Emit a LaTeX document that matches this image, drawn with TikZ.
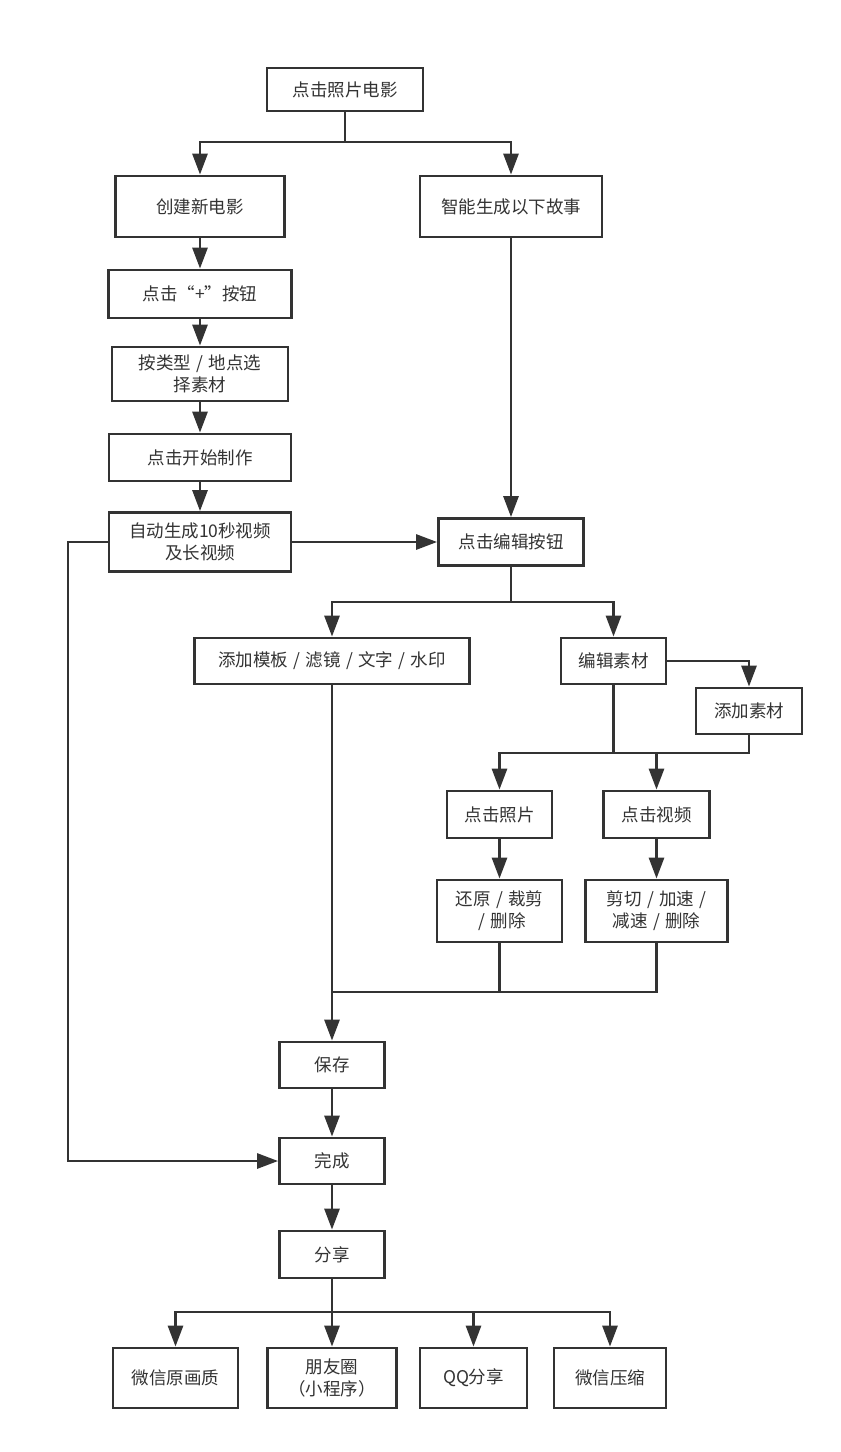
\documentclass[tikz,border=0pt]{standalone}
\usepackage{fontspec}
\newfontfamily\cjk{Noto Sans CJK SC}
\usepackage{tikz}
\usetikzlibrary{arrows.meta}
\definecolor{ink}{HTML}{333333}
\newcommand{\slsep}{\hspace{0.3em}/\hspace{0.3em}}

\begin{document}
\begin{tikzpicture}[x=1pt,y=-1pt,>={Triangle[length=21pt,width=15pt]},
  font=\cjk\fontsize{17.5}{22}\selectfont,
  box/.style 2 args={draw=ink,line width=2.8pt,text=ink,align=center,
    inner sep=0pt,minimum width=#1pt,minimum height=#2pt},
  flow/.style={->,draw=ink,line width=2.8pt},
  link/.style={draw=ink,line width=2.8pt}]
  \fill[white] (0,0) rectangle (841,1452);
  \useasboundingbox (0,0) rectangle (841,1452);

  \node[box={156}{43}] (top) at (345,89.5) {点击照片电影};
  \node[box={169}{61}] (create) at (200,206.5) {创建新电影};
  \node[box={182}{61}] (story) at (511,206.5) {智能生成以下故事};
  \node[box={183}{48}] (plus) at (200,294) {点击“+”按钮};
  \node[box={176}{54}] (pick) at (200,374) {按类型\slsep 地点选\\择素材};
  \node[box={182}{47}] (start) at (200,457.5) {点击开始制作};
  \node[box={182}{59}] (auto) at (200,542) {自动生成10秒视频\\及长视频};
  \node[box={145}{47}] (edit) at (511,542) {点击编辑按钮};
  \node[box={275}{46}] (tmpl) at (332,661) {添加模板\slsep 滤镜\slsep 文字\slsep 水印};
  \node[box={105}{46}] (mat) at (613.5,661) {编辑素材};
  \node[box={106}{46}] (addmat) at (749,711) {添加素材};
  \node[box={105}{47}] (photo) at (499.5,814.5) {点击照片};
  \node[box={106}{47}] (video) at (656.5,814.5) {点击视频};
  \node[box={125}{62}] (phedit) at (499.5,911) {还原\slsep 裁剪\\\slsep 删除};
  \node[box={142}{62}] (viedit) at (656.5,911) {剪切\slsep 加速\slsep\\减速\slsep 删除};
  \node[box={105}{46}] (save) at (332,1065) {保存};
  \node[box={105}{46}] (done) at (332,1161) {完成};
  \node[box={105}{47}] (share) at (332,1254.5) {分享};
  \node[box={125}{60}] (wxhd) at (175.5,1378) {微信原画质};
  \node[box={129}{60}] (moments) at (332,1378) {朋友圈\\（小程序）};
  \node[box={107}{60}] (qq) at (473.5,1378) {QQ分享};
  \node[box={112}{60}] (wxlow) at (610,1378) {微信压缩};

  \coordinate (j1) at (345,142);
  \coordinate (j2) at (511,602);
  \coordinate (j3) at (613.5,753);
  \coordinate (j4) at (332,992);
  \coordinate (j5) at (332,1312);
  \coordinate (lft) at (68,1161);

  \draw[flow] (top) -- (j1) -| (create);
  \draw[flow] (j1) -| (story);
  \draw[flow] (create) -- (plus);
  \draw[flow] (plus) -- (pick);
  \draw[flow] (pick) -- (start);
  \draw[flow] (start) -- (auto);
  \draw[flow] (story) -- (edit);
  \draw[flow] (auto) -- (edit);
  \draw[flow] (auto.west) -| (lft) -- (done);
  \draw[flow] (edit) -- (j2) -| (tmpl);
  \draw[flow] (j2) -| (mat);
  \draw[flow] (mat) -| (addmat);
  \draw[link] (mat) -- (j3);
  \draw[link] (addmat) |- (j3);
  \draw[flow] (j3) -| (photo);
  \draw[flow] (j3) -| (video);
  \draw[flow] (photo) -- (phedit);
  \draw[flow] (video) -- (viedit);
  \draw[link] (phedit) |- (j4);
  \draw[link] (viedit) |- (j4);
  \draw[flow] (tmpl) -- (save);
  \draw[flow] (save) -- (done);
  \draw[flow] (done) -- (share);
  \draw[flow] (share) -- (j5) -| (wxhd);
  \draw[flow] (j5) -- (moments);
  \draw[flow] (j5) -| (qq);
  \draw[flow] (j5) -| (wxlow);
\end{tikzpicture}
\end{document}
